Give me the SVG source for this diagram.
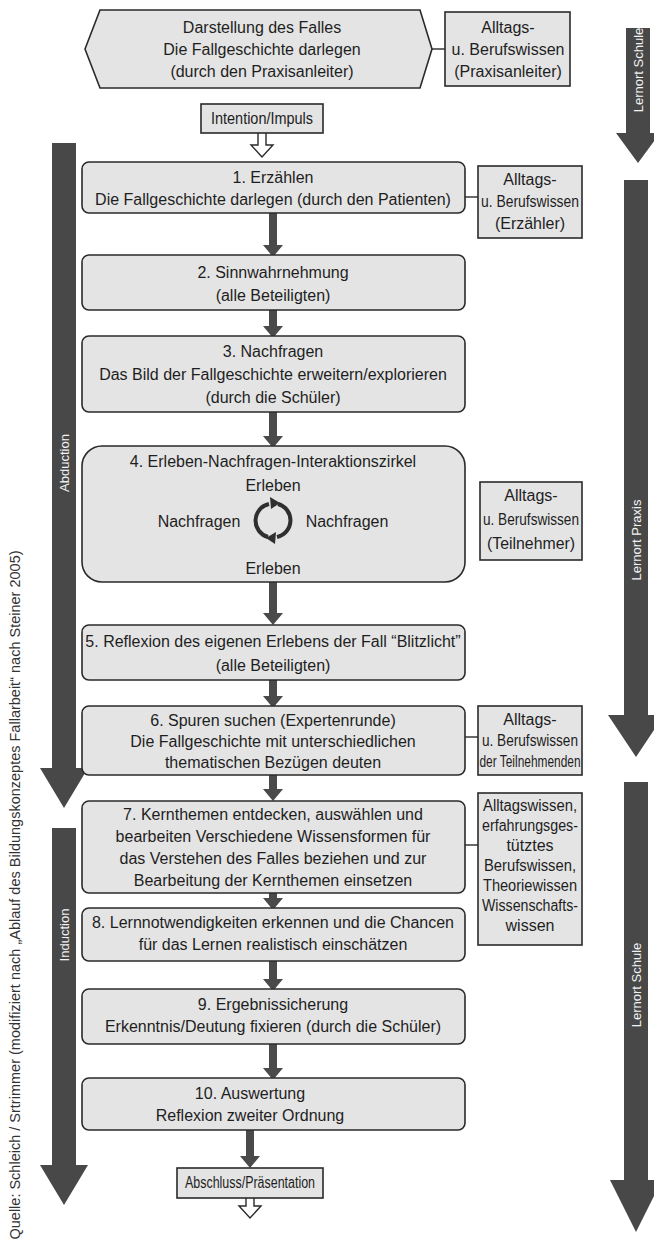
<svg xmlns="http://www.w3.org/2000/svg" width="654" height="1249" viewBox="0 0 654 1249">
<defs>
<style>
.box{fill:#e4e4e4;stroke:#2a2a2a;stroke-width:1.6}
.rbox{fill:#e4e4e4;stroke:#2a2a2a;stroke-width:1.6}
.t{font-family:"Liberation Sans","DejaVu Sans",sans-serif;font-size:16px;fill:#1e1e1e;text-anchor:middle}
.s{font-family:"Liberation Sans","DejaVu Sans",sans-serif;font-size:16px;fill:#1e1e1e;text-anchor:middle}
.big{fill:#484848}
.bl{font-family:"Liberation Sans","DejaVu Sans",sans-serif;font-size:13px;fill:#f2f2f2;text-anchor:middle}
.flow{fill:#4a4a4a}
.link{stroke:#2a2a2a;stroke-width:1.4;fill:none}
.hollow{fill:#fff;stroke:#2a2a2a;stroke-width:1.4}
.src{font-family:"Liberation Sans","DejaVu Sans",sans-serif;font-size:14.5px;fill:#333;text-anchor:middle}
</style>
</defs>
<rect width="654" height="1249" fill="#ffffff"/>

<g id="side-arrows">
<g id="abduction">
<polygon class="big" points="52,143 76,143 76,768 88,768 64,808 40,768 52,768"/>
<text class="bl" transform="translate(69,463) rotate(-90)">Abduction</text>
</g>
<g id="induction">
<polygon class="big" points="52,828 76,828 76,1165 88,1165 64,1205 40,1165 52,1165"/>
<text class="bl" transform="translate(69,935) rotate(-90)">Induction</text>
</g>
<g id="lernort-schule-top">
<polygon class="big" points="626,28 650,28 650,133 660,133 638,163 616,133 626,133"/>
<text class="bl" transform="translate(643,70) rotate(-90)">Lernort Schule</text>
</g>
<g id="lernort-praxis">
<polygon class="big" points="624,180 648,180 648,715 664,715 636,757 608,715 624,715"/>
<text class="bl" transform="translate(641,540) rotate(-90)">Lernort Praxis</text>
</g>
<g id="lernort-schule-bottom">
<polygon class="big" points="624,782 648,782 648,1180 662,1180 636,1232 610,1180 624,1180"/>
<text class="bl" transform="translate(641,985) rotate(-90)">Lernort Schule</text>
</g>
</g>

<g id="connectors">
<line class="link" x1="432" y1="49" x2="445" y2="49"/>
<line class="link" x1="465" y1="197" x2="478" y2="197"/>
<line class="link" x1="465" y1="737" x2="478" y2="737"/>
<line class="link" x1="465" y1="845" x2="478" y2="845"/>
<path class="hollow" d="M258,133 V145 H251 L262,157 L273,145 H266 V133"/>
<path class="hollow" d="M246,1198 V1206 H239 L250,1218 L261,1206 H254 V1198"/>
<polygon class="flow" points="269,213 277,213 277,245 283,245 273,257 263,245 269,245"/>
<polygon class="flow" points="269,300 277,300 277,326 283,326 273,338 263,326 269,326"/>
<polygon class="flow" points="269,405 277,405 277,436 283,436 273,448 263,436 269,436"/>
<polygon class="flow" points="269,582 277,582 277,613 283,613 273,625 263,613 269,613"/>
<polygon class="flow" points="269,676 277,676 277,696 283,696 273,708 263,696 269,696"/>
<polygon class="flow" points="269,775 277,775 277,789 283,789 273,801 263,789 269,789"/>
<polygon class="flow" points="269,888 277,888 277,898 283,898 273,910 263,898 269,898"/>
<polygon class="flow" points="269,961 277,961 277,979 283,979 273,991 263,979 269,979"/>
<polygon class="flow" points="269,1044 277,1044 277,1068 283,1068 273,1080 263,1068 269,1068"/>
<polygon class="flow" points="246,1130 254,1130 254,1156 260,1156 250,1168 240,1156 246,1156"/>
</g>

<g id="n-darstellung">
<polygon class="box" points="85,49 100,10 420,10 432,49 420,88 100,88"/>
<text class="t" x="262" y="33">Darstellung des Falles</text>
<text class="t" x="262" y="55">Die Fallgeschichte darlegen</text>
<text class="t" x="262" y="77">(durch den Praxisanleiter)</text>
</g>
<g id="n-wissen-praxisanleiter">
<rect class="rbox" x="445" y="12" width="125" height="74"/>
<text class="t" x="508" y="33">Alltags-</text>
<text class="t" x="508" y="55">u. Berufswissen</text>
<text class="t" x="508" y="77">(Praxisanleiter)</text>
</g>
<g id="n-intention">
<rect class="rbox" x="201" y="104" width="122" height="29"/>
<text class="s" x="262" y="124" textLength="102" lengthAdjust="spacingAndGlyphs">Intention/Impuls</text>
</g>

<g id="n-1">
<rect class="box" x="82" y="162" width="383" height="51" rx="7"/>
<text class="t" x="273" y="183">1. Erzählen</text>
<text class="t" x="273" y="205">Die Fallgeschichte darlegen (durch den Patienten)</text>
</g>
<g id="n-wissen-erzaehler">
<rect class="rbox" x="478" y="166" width="104" height="72"/>
<text class="s" x="530" y="185">Alltags-</text>
<text class="s" x="530" y="207" textLength="98" lengthAdjust="spacingAndGlyphs">u. Berufswissen</text>
<text class="s" x="530" y="229">(Erzähler)</text>
</g>

<g id="n-2">
<rect class="box" x="82" y="255" width="383" height="55" rx="7"/>
<text class="t" x="273" y="278">2. Sinnwahrnehmung</text>
<text class="t" x="273" y="301">(alle Beteiligten)</text>
</g>

<g id="n-3">
<rect class="box" x="82" y="336" width="383" height="76" rx="7"/>
<text class="t" x="273" y="357">3. Nachfragen</text>
<text class="t" x="273" y="380">Das Bild der Fallgeschichte erweitern/explorieren</text>
<text class="t" x="273" y="403">(durch die Schüler)</text>
</g>

<g id="n-4">
<rect class="box" x="82" y="446" width="383" height="136" rx="20"/>
<text class="t" x="273" y="467">4. Erleben-Nachfragen-Interaktionszirkel</text>
<text class="t" x="273" y="491">Erleben</text>
<text class="t" x="199" y="527">Nachfragen</text>
<text class="t" x="347" y="527">Nachfragen</text>
<text class="t" x="273" y="574">Erleben</text>
<g fill="none" stroke="#2f2f2f" stroke-width="4">
<path d="M278,504 A17,17 0 0 1 277,537"/>
<path d="M268,537 A17,17 0 0 1 269,504"/>
</g>
<polygon fill="#2f2f2f" points="280,503 270,497 271,509"/>
<polygon fill="#2f2f2f" points="266,538 276,532 275,544"/>
</g>
<g id="n-wissen-teilnehmer">
<rect class="rbox" x="480" y="482" width="102" height="78"/>
<text class="s" x="531" y="501">Alltags-</text>
<text class="s" x="531" y="525" textLength="96" lengthAdjust="spacingAndGlyphs">u. Berufswissen</text>
<text class="s" x="531" y="549" textLength="88" lengthAdjust="spacingAndGlyphs">(Teilnehmer)</text>
</g>

<g id="n-5">
<rect class="box" x="82" y="625" width="383" height="55" rx="7"/>
<text class="t" x="273" y="647">5. Reflexion des eigenen Erlebens der Fall “Blitzlicht”</text>
<text class="t" x="273" y="671">(alle Beteiligten)</text>
</g>

<g id="n-6">
<rect class="box" x="82" y="706" width="383" height="69" rx="7"/>
<text class="t" x="273" y="726">6. Spuren suchen (Expertenrunde)</text>
<text class="t" x="273" y="747">Die Fallgeschichte mit unterschiedlichen</text>
<text class="t" x="273" y="768">thematischen Bezügen deuten</text>
</g>
<g id="n-wissen-teilnehmende">
<rect class="rbox" x="478" y="706" width="104" height="69"/>
<text class="s" x="530" y="725">Alltags-</text>
<text class="s" x="530" y="746" textLength="96" lengthAdjust="spacingAndGlyphs">u. Berufswissen</text>
<text class="s" x="530" y="767" textLength="101" lengthAdjust="spacingAndGlyphs">der Teilnehmenden</text>
</g>

<g id="n-7">
<rect class="box" x="82" y="801" width="383" height="92" rx="7"/>
<text class="t" x="273" y="820">7. Kernthemen entdecken, auswählen und</text>
<text class="t" x="273" y="842">bearbeiten  Verschiedene Wissensformen für</text>
<text class="t" x="273" y="864">das Verstehen des Falles beziehen und zur</text>
<text class="t" x="273" y="886">Bearbeitung der Kernthemen einsetzen</text>
</g>
<g id="n-wissensformen">
<rect class="rbox" x="478" y="793" width="104" height="152"/>
<text class="s" x="530" y="811" textLength="94" lengthAdjust="spacingAndGlyphs">Alltagswissen,</text>
<text class="s" x="530" y="831" textLength="96" lengthAdjust="spacingAndGlyphs">erfahrungsges-</text>
<text class="s" x="530" y="851">tütztes</text>
<text class="s" x="530" y="871" textLength="92" lengthAdjust="spacingAndGlyphs">Berufswissen,</text>
<text class="s" x="530" y="891" textLength="94" lengthAdjust="spacingAndGlyphs">Theoriewissen</text>
<text class="s" x="530" y="911" textLength="96" lengthAdjust="spacingAndGlyphs">Wissenschafts-</text>
<text class="s" x="530" y="931">wissen</text>
</g>

<g id="n-8">
<rect class="box" x="82" y="908" width="383" height="53" rx="7"/>
<text class="t" x="273" y="928">8. Lernnotwendigkeiten erkennen und die Chancen</text>
<text class="t" x="273" y="950">für das Lernen realistisch einschätzen</text>
</g>

<g id="n-9">
<rect class="box" x="82" y="989" width="383" height="55" rx="7"/>
<text class="t" x="273" y="1010">9. Ergebnissicherung</text>
<text class="t" x="273" y="1032">Erkenntnis/Deutung fixieren (durch die Schüler)</text>
</g>

<g id="n-10">
<rect class="box" x="82" y="1078" width="383" height="52" rx="7"/>
<text class="t" x="250" y="1099">10. Auswertung</text>
<text class="t" x="250" y="1121">Reflexion zweiter Ordnung</text>
</g>

<g id="n-abschluss">
<rect class="rbox" x="177" y="1168" width="146" height="30"/>
<text class="s" x="250" y="1188" textLength="130" lengthAdjust="spacingAndGlyphs">Abschluss/Präsentation</text>
</g>

<text class="src" transform="translate(20,895) rotate(-90)">Quelle: Schleich / Srtrimmer (modifiziert nach „Ablauf des Bildungskonzeptes Fallarbeit“ nach Steiner 2005)</text>
</svg>
